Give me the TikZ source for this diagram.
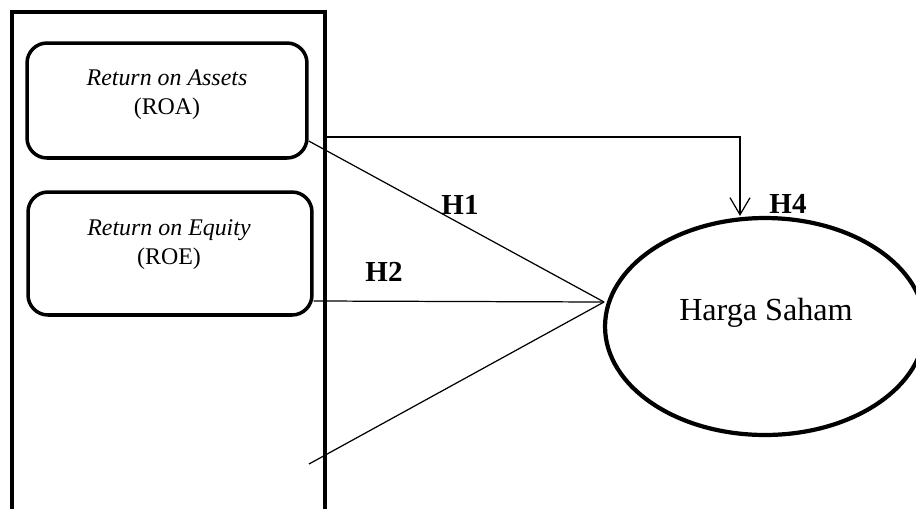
\documentclass[tikz,border=0pt]{standalone}
\usepackage{fontspec}
\setmainfont{Liberation Serif}
\usepackage{tikz}
\usetikzlibrary{shapes.geometric, arrows.meta, positioning}

\begin{document}
\begin{tikzpicture}[
    x=0.02cm, y=-0.02cm,
    panel/.style={rectangle, draw=black, line width=2.4pt, minimum width=6.26cm, minimum height=10.8cm},
    factor/.style={rectangle, rounded corners=0.4cm, draw=black, line width=2pt},
    factortext/.style={align=center, font=\fontsize{13.6}{16.5}\selectfont},
    target/.style={ellipse, draw=black, line width=2.4pt, minimum width=6.4cm, minimum height=4.34cm},
    hyp/.style={font=\fontsize{16.5}{18}\selectfont\bfseries},
    link/.style={line width=0.7pt},
    arrow/.style={-{Straight Barb[length=0.34cm, width=0.4cm]}, line width=0.7pt}
]
\useasboundingbox (0,0) rectangle (916,508);
\node[panel] (panel) at (168.5,282) {};
\node[factor, minimum width=5.6cm, minimum height=2.3cm] (roa) at (167,100.5) {};
\node[factor, minimum width=5.68cm, minimum height=2.46cm] (roe) at (170,253.5) {};
\node[factortext] (roalbl) at (167,95) {\textit{Return on Assets}\\(ROA)};
\node[factortext] (roelbl) at (169,245) {\textit{Return on Equity}\\(ROE)};
\node[target] (saham) at (765,326.5) {};
\node[font=\fontsize{18.3}{20}\selectfont] (sahamlbl) at (766,313) {Harga Saham};
\coordinate (meet) at (604,302);
\coordinate (low) at (309,464);
\draw[link] ([yshift=-0.81cm]roa.east) -- (meet);
\draw[link] ([yshift=-0.95cm]roe.east) -- (meet);
\draw[link] (low) -- (meet);
\draw[arrow] ([yshift=-2.54cm]panel.north east) -| ([xshift=-0.5cm]saham.north);
\node[hyp] (h1) at (460,205) {H1};
\node[hyp] (h2) at (384,272) {H2};
\node[hyp] (h4) at (788,204) {H4};
\end{tikzpicture}
\end{document}
